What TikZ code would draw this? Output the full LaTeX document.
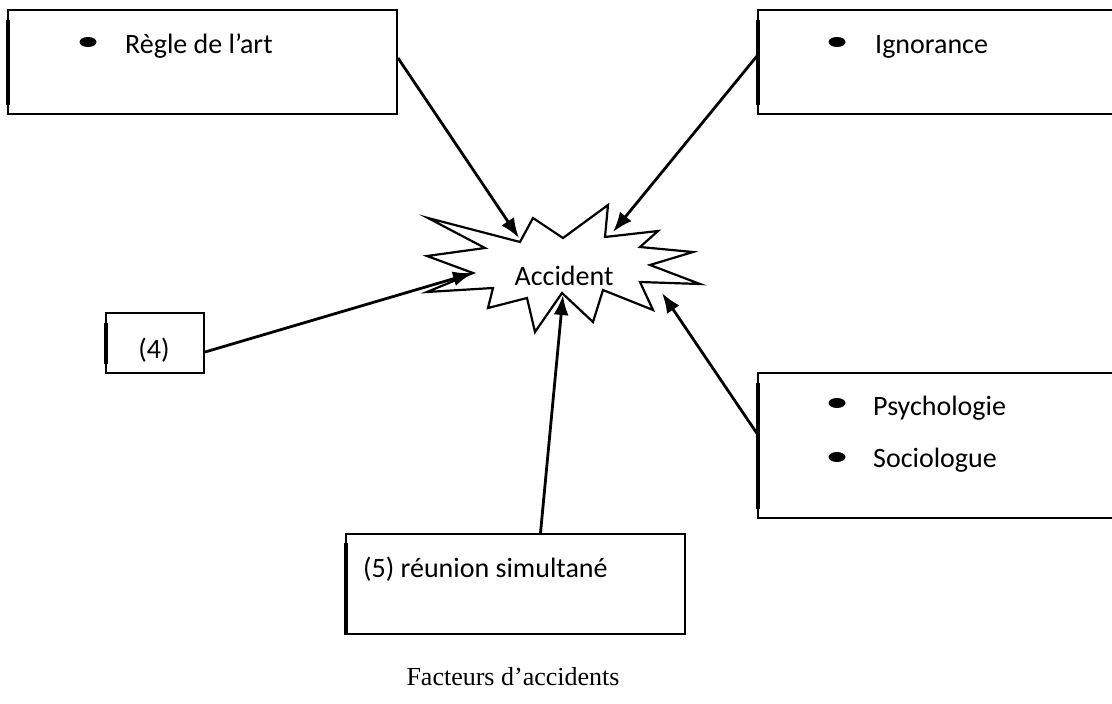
\documentclass[tikz,border=0pt]{standalone}
\usepackage{fontspec}
\setmainfont{Carlito}
\newfontfamily\legende{Liberation Serif}
\usetikzlibrary{arrows.meta}
\tikzset{
  box/.style    = {draw, line width=2pt, inner sep=0pt, anchor=north west},
  edge/.style   = {line width=3.6pt},
  label/.style  = {inner sep=0pt, anchor=base west, font=\fontsize{28}{33}\selectfont},
  cause/.style  = {line width=2.8pt, -{Latex[length=20pt,width=15pt]}},
  burst/.style  = {draw, line width=2.2pt, fill=white, line join=miter},
}
\begin{document}
\begin{tikzpicture}[x=1pt, y=-1pt]
        \useasboundingbox (0,0) rectangle (1112,704);
        % boxes
        \node[box, minimum width=389pt, minimum height=104pt] (regle)   at (7,9)    {};
        \node[box, minimum width=359pt, minimum height=104pt] (ign)     at (757,9)  {};
        \node[box, minimum width=98pt,  minimum height=60pt]  (quatre)  at (105,312) {};
        \node[box, minimum width=359pt, minimum height=145pt] (psy)     at (757,372) {};
        \node[box, minimum width=339pt, minimum height=100pt] (reunion) at (345,533) {};
        \foreach \b in {regle,ign,quatre,psy} {
            \draw[edge] ([xshift=1pt,yshift=-11pt]\b.north west) -- ([xshift=1pt,yshift=10pt]\b.south west);
        }
        \draw[edge] ([xshift=1pt,yshift=-10pt]reunion.north west) -- ([xshift=1pt]reunion.south west);
        % bullets
        \foreach \x/\y in {88/42, 837/42, 837/403, 837/457} {
            \fill (\x,\y) ellipse [x radius=8.5pt, y radius=5pt];
        }
        \node[label] (regle-t)  at (125,53)  {Règle de l’art};
        \node[label] (ign-t)    at (875,53)  {Ignorance};
        \node[label] (psy-t)    at (873,415) {Psychologie};
        \node[label] (socio-t)  at (873,467) {Sociologue};
        \node[label, anchor=base] (quatre-t) at (154,358) {(4)};
        \node[label] (reunion-t) at (363,577) {(5) réunion simultané};
        % accident
        \draw[burst] (428,218) -- (520,242) -- (533,218) -- (563,238) -- (608,205)
            -- (605,237) -- (658,231) -- (640,247) -- (693,252) -- (650,265)
            -- (700,284) -- (640,282) -- (653,310) -- (603,290) -- (593,322)
            -- (562,293) -- (535,332) -- (527,298) -- (488,308) -- (493,288)
            -- (427,292) -- (473,273) -- (427,256) -- (485,248) -- cycle;
        \node[label, anchor=base] (acc) at (564,285) {Accident};
        \coordinate (t-regle)   at (519,238);
        \coordinate (t-ign)     at (613,232);
        \coordinate (t-quatre)  at (473,273);
        \coordinate (t-reunion) at (563,295);
        \coordinate (t-psy)     at (662,293);
        \draw[cause] ([yshift=4pt]regle.east) -- (t-regle);
        \draw[cause] ([yshift=6pt]ign.west) -- (t-ign);
        \draw[cause] ([yshift=-9pt]quatre.east) -- (t-quatre);
        \draw[cause] ([xshift=25pt]reunion.north) -- (t-reunion);
        \draw[cause] ([yshift=12pt]psy.west) -- (t-psy);
        \node[inner sep=0pt, anchor=base, font=\legende\fontsize{26}{30}\selectfont] (titre) at (513,685) {Facteurs d’accidents};
\end{tikzpicture}
\end{document}
